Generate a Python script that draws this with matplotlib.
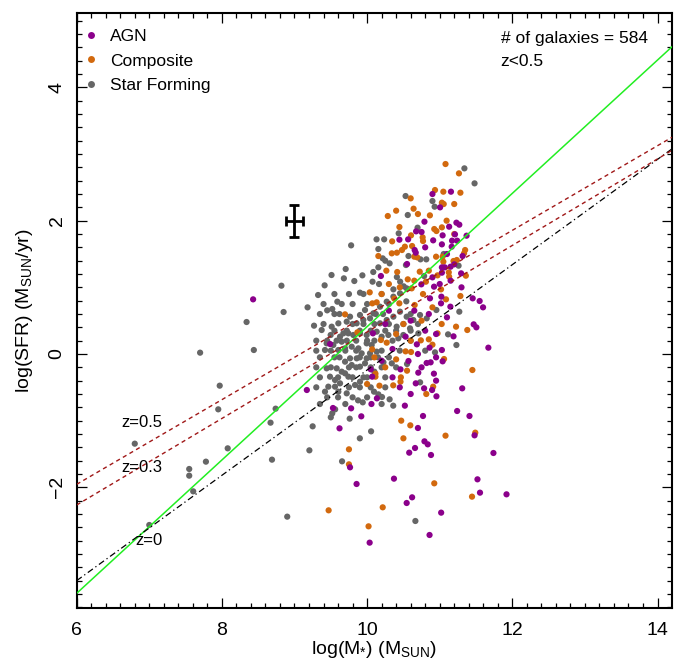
import matplotlib
matplotlib.use("Agg")
import matplotlib.pyplot as plt
from matplotlib.ticker import MultipleLocator
from matplotlib.lines import Line2D

plt.rcParams['font.family'] = ['Liberation Sans', 'DejaVu Sans']
plt.rcParams['mathtext.fontset'] = 'custom'
plt.rcParams['mathtext.rm'] = 'Liberation Sans'
plt.rcParams['mathtext.it'] = 'Liberation Sans:italic'

# ---------------- data ----------------
agn_x = [8.43, 11.67, 11.31, 11.24, 11.41, 11.48, 11.74, 11.52, 11.555, 11.92, 11.02, 10.88, 10.835,
         10.79, 10.66, 10.58, 10.70, 10.77, 10.52, 10.86, 10.62, 10.545, 10.37, 10.035, 9.855, 9.765,
         9.62, 9.92, 9.53, 9.78, 9.17, 10.135, 10.06, 10.46, 10.67, 10.785, 10.895, 10.955, 10.705,
         10.92, 10.82, 10.875, 11.04, 11.03, 10.86, 10.685, 10.57, 10.07, 10.05, 11.19, 10.53, 10.35,
         9.49, 10.08,
         11.155, 11.005, 10.79, 11.23, 11.27, 10.675, 10.75, 11.04, 11.13, 11.21, 11.37, 10.445, 10.565,
         10.91, 11.17, 11.24, 11.03, 11.165, 10.655, 10.67, 11.315, 11.03, 11.07, 11.15, 11.20, 10.90,
         11.03, 11.295, 10.19, 10.747, 10.866, 10.922, 11.023, 11.018, 11.147, 11.454, 11.55, 11.597,
         11.468, 11.505,
         10.6, 10.85, 10.95, 10.7, 10.95, 11.1, 10.8, 10.65, 11.0, 10.55, 10.8, 10.45, 10.6, 10.95,
         10.75, 10.35, 10.3, 10.2, 10.25, 11.15, 11.3, 10.9, 11.1]
agn_y = [0.82, 0.095, -0.515, -0.855, -0.93, -1.22, -1.485, -1.88, -2.08, -2.105, -2.38, -1.515, -1.355,
         -1.31, -1.41, -1.48, -1.11, -0.93, -0.775, -2.715, -2.15, -2.235, -1.87, -2.83, -1.95, -1.70,
         -1.115, -0.935, -0.81, -0.815, -0.54, -0.665, -0.75, -0.23, -0.44, -0.515, -0.54, -0.635, -0.28,
         -0.295, -0.135, -0.125, -0.11, 0.06, 0.095, 0.145, -0.105, -0.34, -0.23, 0.265, 0.26, 0.075,
         0.15, 0.31,
         2.435, 2.2, 1.985, 1.97, 1.94, 1.84, 1.83, 1.78, 1.91, 1.795, 1.775, 1.715, 1.72,
         1.705, 1.70, 1.70, 1.645, 1.61, 1.56, 1.52, 1.47, 1.30, 1.30, 1.31, 1.345, 1.15,
         1.22, 1.21, 1.17, 1.045, 0.835, 1.01, 0.86, 0.76, 0.71, 0.835, 0.795, 0.70,
         0.445, 0.40,
         0.5, 0.6, 0.3, 0.0, -0.05, 0.55, 0.35, 0.65, 1.05, 1.35, 1.6, -0.5, -0.6, -0.4,
         -0.2, -0.35, 0.65, -0.1, 0.45, 1.1, 1.0, 2.4, 1.5]

comp_x = [11.45, 11.49, 11.08, 10.925, 10.595, 10.50, 10.47, 10.215, 10.02, 9.47, 9.75, 9.75, 11.445,
          10.17, 10.36, 10.46, 10.465, 10.91, 10.815, 11.06, 10.90, 10.85, 10.74, 10.40, 10.115, 10.115,
          10.97, 10.605, 10.53, 11.38, 9.866, 10.07, 10.19, 10.27,
          11.08, 11.265, 10.935, 11.05, 11.285, 10.60, 11.03, 11.055, 10.64, 10.865, 10.285, 11.095,
          10.445, 10.925, 10.955, 11.03, 10.605, 10.765, 10.77, 10.345, 10.62, 11.35, 10.52, 10.48,
          10.41, 10.34, 10.155, 10.65, 10.69, 10.95, 11.04, 11.335, 11.05, 11.19, 11.235, 10.265,
          10.415, 10.56, 10.725, 10.81, 10.97, 11.125, 11.13, 11.36, 10.072, 10.132, 10.036, 9.696,
          10.375, 10.444, 10.655, 10.77, 10.614, 11.018, 11.087, 11.285, 11.225, 11.027,
          10.5, 10.75, 10.4, 10.6, 10.9, 10.45, 10.3, 10.55, 10.25, 10.0, 10.2, 10.65, 10.85, 11.2,
          10.4, 10.7, 11.2, 10.1]
comp_y = [-0.24, -1.18, -1.225, -1.94, -1.07, -1.265, -1.0, -2.3, -2.585, -2.345, -1.43, -1.655, -2.14,
          -0.475, -0.47, -0.415, -0.35, -0.49, -0.6, -0.075, 0.14, 0.22, 0.205, -0.08, -0.295, -0.34,
          0.31, 0.03, 0.04, 0.36, 0.325, 0.07, 0.21, 0.17,
          2.85, 2.71, 2.46, 2.435, 2.42, 2.335, 2.27, 2.25, 2.18, 2.08, 2.07, 2.0,
          1.905, 1.875, 1.845, 1.9, 1.78, 1.75, 1.695, 1.69, 1.62, 1.56, 1.61, 1.56,
          1.52, 1.51, 1.47, 1.46, 1.45, 1.46, 1.46, 1.51, 1.385, 1.395, 1.41, 1.25,
          1.23, 1.12, 1.235, 1.085, 1.18, 1.225, 1.16, 1.175, 0.76, 0.775, 0.925, 0.595,
          0.83, 0.76, 0.735, 0.90, 0.985, 0.97, 0.82, 0.87, 0.41, 0.45,
          0.45, 0.5, 0.3, 0.2, 0.7, 1.0, 1.05, -0.25, -0.2, -0.45, 0.9, 1.1, 1.25, 1.8,
          2.15, 2.1, 2.25, -0.05]

sf_x = [8.82, 8.85, 8.34, 7.70, 8.44, 7.97, 7.95, 8.74, 8.67, 6.80, 8.08, 7.78, 8.69, 7.55, 7.55, 7.605,
        7.00, 8.90,
        10.665, 9.655, 9.205, 9.90, 10.055, 9.25, 9.76, 9.50, 9.52, 9.56, 10.31, 10.36, 9.875, 9.94,
        10.205, 10.155, 10.095, 10.73, 10.935, 10.55, 10.34, 10.225, 10.10, 11.23, 11.115,
        9.374, 9.498, 9.627, 9.673, 9.742, 9.81, 9.902, 9.994, 9.65, 9.604, 9.696, 9.788, 9.88, 9.994,
        10.063, 10.132, 10.04, 9.925, 9.857, 9.765, 9.696, 9.788, 9.902, 9.971, 9.994, 9.696, 9.65,
        9.581, 9.742, 9.902, 9.834, 9.627, 9.558, 9.489, 9.466, 9.558, 9.42, 9.604, 9.719, 9.443, 9.42,
        9.443, 9.535, 10.132, 10.2, 10.293, 10.43, 10.499, 10.706,
        11.34, 11.48, 10.53, 10.90, 10.93, 10.56, 10.695, 10.435, 10.13, 10.235, 9.78, 10.155, 10.57,
        10.215, 10.25, 10.31, 10.735, 10.815, 11.055, 11.26, 10.535, 10.155, 10.41, 10.455, 10.785,
        9.935, 10.085, 10.075, 9.51, 9.68, 9.705, 9.415, 9.325, 9.18, 9.45, 9.52, 9.59, 9.824, 9.902,
        10.164, 10.362, 10.504, 10.54, 10.954, 11.27, 9.269,
        9.856, 9.948, 10.04, 9.902, 9.971, 10.086, 10.178, 10.27, 10.362, 10.453, 10.545, 10.178,
        10.27, 10.362, 10.453, 10.545, 10.637, 10.729, 10.821, 10.591, 10.407, 9.604, 9.512, 9.719,
        9.765,
        9.55, 9.75, 9.95, 10.2,
        9.4, 9.65, 9.8, 10.0, 10.3,
        9.35, 9.55, 9.62, 10.12, 10.22, 10.6,
        9.4, 9.8, 9.95, 10.1, 10.3, 10.5, 10.7,
        9.55, 9.72, 9.9, 10.05, 10.25, 10.4, 10.6,
        9.3, 9.45, 9.58, 9.72, 9.85, 10.0, 10.1, 10.35, 10.6,
        9.3, 9.5, 9.7, 9.85, 10.2, 10.45, 10.8,
        9.35, 9.55, 9.62, 9.9, 10.05, 10.15, 10.3,
        9.3, 9.5, 9.75, 9.85, 10.05, 10.2, 10.4,
        9.35, 9.6, 9.8, 9.95, 10.0, 10.25,
        9.3, 9.75, 9.9, 10.05, 10.25,
        9.45, 9.6, 9.8, 10.0,
        9.35, 9.7, 10.2]
sf_y = [1.025, 0.63, 0.48, 0.02, 0.06, -0.475, -0.83, -0.82, -1.03, -1.345, -1.415, -1.615, -1.585,
        -1.725, -1.825, -2.06, -2.565, -2.44,
        -2.505, -1.61, -1.445, -1.265, -1.16, -1.085, -0.97, -0.95, -0.89, -0.83, -0.68, -0.775, -0.695,
        -0.725, -0.645, -0.605, -0.565, -0.425, 0.025, -0.15, -0.14, -0.125, -0.265, 0.135, 0.295,
        0.36, 0.285, 0.26, 0.31, 0.31, 0.285, 0.31, 0.285, 0.185, 0.06, 0.085, 0.11, 0.085, 0.16,
        0.135, 0.035, 0.01, 0.01, -0.065, -0.065, -0.115, -0.165, -0.19, -0.14, -0.065, -0.29, -0.265,
        -0.215, -0.34, -0.415, -0.465, -0.44, -0.39, -0.34, -0.49, -0.49, -0.565, -0.565, -0.59, -0.215,
        0.06, 0.16, 0.135, 0.335, 0.26, 0.285, 0.235, 0.285, 0.31,
        2.785, 2.56, 2.37, 2.295, 2.21, 2.085, 1.895, 1.81, 1.72, 1.72, 1.63, 1.575, 1.47,
        1.435, 1.40, 1.36, 1.42, 1.42, 1.50, 1.325, 1.335, 1.30, 1.155, 1.085, 1.17,
        1.18, 1.23, 1.085, 1.185, 1.135, 1.275, 1.03, 0.885, 0.70, 0.655, 0.675, 0.785, 1.095, 0.92,
        1.05, 0.97, 1.015, 0.79, 0.66, 0.635, 0.425,
        0.46, 0.51, 0.535, 0.585, 0.66, 0.61, 0.71, 0.785, 0.86, 0.91, 0.985, 0.46,
        0.51, 0.56, 0.635, 0.56, 0.51, 0.585, 0.535, 0.385, 0.41, 0.46, 0.41, 0.485,
        0.56,
        0.9, 0.9, 0.9, 0.9,
        0.75, 0.75, 0.75, 0.75, 0.75,
        0.6, 0.6, 0.6, 0.6, 0.6, 0.6,
        0.45, 0.45, 0.45, 0.45, 0.45, 0.45, 0.45,
        0.35, 0.35, 0.35, 0.35, 0.35, 0.35, 0.35,
        0.2, 0.2, 0.2, 0.2, 0.2, 0.2, 0.2, 0.2, 0.2,
        0.05, 0.05, 0.05, 0.05, 0.05, 0.05, 0.05,
        -0.05, -0.05, -0.05, -0.05, -0.05, -0.05, -0.05,
        -0.2, -0.2, -0.2, -0.2, -0.2, -0.2, -0.2,
        -0.35, -0.35, -0.35, -0.35, -0.35, -0.35,
        -0.5, -0.5, -0.5, -0.5, -0.5,
        -0.65, -0.65, -0.65, -0.65,
        -0.75, -0.75, -0.75]

# main-sequence relations: (slope, intercept)
ms_green = (1.0, -9.59)
ms_z0 = (0.79, -8.14)
ms_z03 = (0.649, -6.159)
ms_z05 = (0.635, -5.765)
line_x = [6.0, 14.2]

err_x, err_y = [9.0], [2.0]
err_dx, err_dy = [0.115], [0.24]

z_labels = ['z=0.5', 'z=0.3', 'z=0']
z_label_x = [6.9, 6.9, 7.0]
z_label_y = [-1.02, -1.705, -2.805]

n_gal = 584

# ---------------- figure ----------------
fig = plt.figure(figsize=(6.84, 6.62), dpi=100)
ax = fig.add_axes([0.1121, 0.0816, 0.8699, 0.8992])

c_agn = '#8B008B'
c_comp = '#D2690E'
c_sf = '#666666'
ms = 20
ax.scatter(sf_x, sf_y, s=ms, c=c_sf, edgecolors='none', zorder=2)
ax.scatter(comp_x, comp_y, s=ms, c=c_comp, edgecolors='none', zorder=3)
ax.scatter(agn_x, agn_y, s=ms, c=c_agn, edgecolors='none', zorder=4)

def yv(p):
    return [p[0] * v + p[1] for v in line_x]

ax.plot(line_x, yv(ms_green), color='#22EE22', lw=1.1, zorder=5)
ax.plot(line_x, yv(ms_z0), color='black', lw=0.9, ls=(0, (5, 2.5, 1, 2.5)), zorder=5)
ax.plot(line_x, yv(ms_z03), color='#A01818', lw=1.0, ls=(0, (3, 2.5)), zorder=5)
ax.plot(line_x, yv(ms_z05), color='#A01818', lw=1.0, ls=(0, (3, 2.5)), zorder=5)

ax.errorbar(err_x, err_y, xerr=err_dx, yerr=err_dy, fmt='none', ecolor='black',
            elinewidth=2.0, capsize=3.5, capthick=2.0, zorder=6)

for t, x, y in zip(z_labels, z_label_x, z_label_y):
    ax.text(x, y, t, fontsize=12, ha='center', va='center', zorder=7)

ax.text(0.7126, 0.957, f'# of galaxies = {n_gal}', transform=ax.transAxes, fontsize=12.5,
        ha='left', va='center')
ax.text(0.7126, 0.918, 'z<0.5', transform=ax.transAxes, fontsize=12.5, ha='left', va='center')

handles = [Line2D([], [], ls='none', marker='o', ms=5, mfc=c, mec='none')
           for c in (c_agn, c_comp, c_sf)]
ax.legend(handles, ['AGN', 'Composite', 'Star Forming'], loc='upper left', frameon=False,
          fontsize=12.5, handlelength=0.6, handletextpad=0.8, labelspacing=0.52,
          borderaxespad=0.0, bbox_to_anchor=(0.003, 0.984))

ax.set_xlim(6.0, 14.195)
ax.set_ylim(-3.81, 5.12)
ax.xaxis.set_major_locator(MultipleLocator(2))
ax.xaxis.set_minor_locator(MultipleLocator(0.2))
ax.yaxis.set_major_locator(MultipleLocator(2))
ax.yaxis.set_minor_locator(MultipleLocator(0.2))
ax.tick_params(which='both', direction='in', top=True, right=True, width=0.9)
ax.tick_params(which='major', length=7, labelsize=14)
ax.tick_params(axis='x', which='major', pad=10)
ax.tick_params(axis='y', which='major', pad=8)
ax.tick_params(which='minor', length=3.5)
ax.set_yticks([-2, 0, 2, 4])
ax.set_yticklabels(['\u22122', '0', '2', '4'], rotation=90, va='center')
ax.set_xticks([6, 8, 10, 12, 14])
ax.set_xticklabels(['6', '8', '10', '12', '14'])
for s in ax.spines.values():
    s.set_linewidth(1.5)

ax.set_xlabel(r'log(M$_{*}$) (M$_{\rm SUN}$)', fontsize=14, labelpad=0)
ax.set_ylabel(r'log(SFR) (M$_{\rm SUN}$/yr)', fontsize=14, labelpad=10)

fig.savefig('out.png', dpi=100)
